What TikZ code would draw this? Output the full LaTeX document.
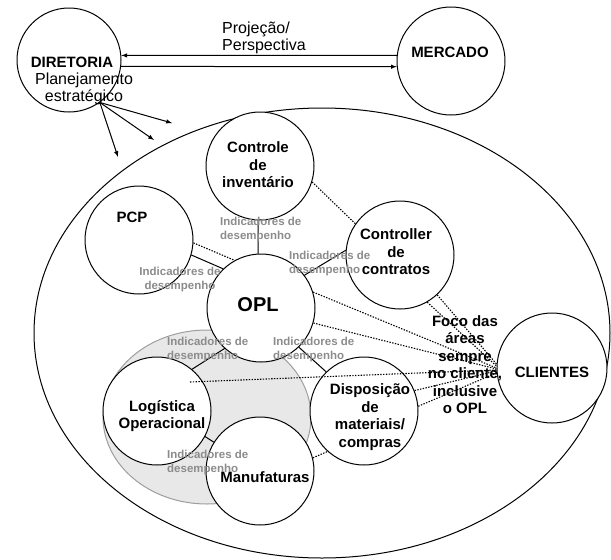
\documentclass[tikz,border=0pt]{standalone}
\usepackage{fontspec}
\setmainfont{Liberation Sans}
\usepackage{xcolor}
\definecolor{indgray}{gray}{0.55}
\definecolor{areafill}{gray}{0.91}
\definecolor{areadraw}{gray}{0.62}

\begin{document}
\begin{tikzpicture}[line cap=round,line join=round,x=1pt,y=-1pt,
    area/.style={circle,draw,fill=white,line width=1pt,minimum size=108pt,inner sep=0pt},
    lbl/.style={align=center,font=\bfseries\fontsize{15}{17.5}\selectfont},
    sublbl/.style={align=center,font=\fontsize{16}{17}\selectfont},
    ind/.style={align=left,anchor=west,inner sep=0pt,text=indgray,font=\bfseries\fontsize{11.5}{14}\selectfont},
    link/.style={line width=1pt},
    dotline/.style={line width=1.1pt,line cap=butt,dash pattern=on 1.4pt off 1.4pt}]
			\useasboundingbox (0,0) rectangle (611,560);
			% background areas
			\draw [line width=1pt] (322,333) ellipse [x radius=288pt, y radius=225pt];
			\draw [line width=1pt,draw=areadraw,fill=areafill] (207,417) ellipse [x radius=104pt, y radius=87pt];
			% circles
			\node[area,minimum size=104pt] (dir) at (69,60) {};
			\node[area] (merc) at (451,61) {};
			\node[area] (inv) at (260,166) {};
			\node[area] (pcp) at (139,240) {};
			\node[area] (opl) at (261,308) {};
			\node[area] (ctr) at (400,255) {};
			\node[area] (log) at (157,411) {};
			\node[area] (man) at (260,471) {};
			\node[area] (disp) at (364,411) {};
			\node[area,minimum size=110pt] (cli) at (552,368) {};
			% arrows
			\coordinate (a1) at (172,123);
			\coordinate (a2) at (154,140);
			\coordinate (a3) at (118,157);
			\coordinate (login) at (190,382);
			\draw [link,-latex] (merc.174) -- (dir.5);
			\draw [link,-latex] (dir.-7) -- (merc.186);
			\draw [link,-latex] (dir.-54) -- (a1);
			\draw [link,-latex] (dir.-54) -- (a2);
			\draw [link,-latex] (dir.-54) -- (a3);
			% solid links
			\draw [link] (inv.268) -- (opl.93);
			\draw [link] (pcp.-16) -- (opl.134);
			\draw [link] (ctr.175) -- (opl.37);
			\draw [link] (opl.228) -- (log.50);
			\draw [link] (opl.-46) -- (disp.134);
			\draw [link] (log.-28) -- (man.148);
			% dotted links
			\draw [dotline] (pcp.-3) -- (opl.119);
			\draw [dotline] (inv.-17) -- (ctr.145);
			\draw [dotline] (ctr.-47) -- (cli.176);
			\draw [dotline] (ctr.-60) -- (cli.178);
			\draw [dotline] (opl.17) -- (cli.180);
			\draw [dotline] (opl.-16) -- (cli.181);
			\draw [dotline] (login) -- (cli.182);
			\draw [dotline] (disp.22) -- (cli.183);
			\draw [dotline] (disp.5) -- (cli.185);
			\draw [dotline] (man.14) -- (disp.228);
			% texts
			\node[lbl] (tdir) at (72,62) {DIRETORIA};
			\node[sublbl] (tplan) at (84,88.5) {Planejamento\\estratégico};
			\node[sublbl,align=left,anchor=west,inner sep=0pt] (tproj) at (222,38) {Projeção/\\Perspectiva};
			\node[lbl] (tmerc) at (450,52) {MERCADO};
			\node[lbl] (tinv) at (258,165) {Controle\\de\\inventário};
			\node[lbl] (tpcp) at (132,217) {PCP};
			\node[lbl,font=\bfseries\fontsize{20}{22}\selectfont] (topl) at (258,305) {OPL};
			\node[lbl] (tctr) at (396,252) {Controller\\de\\contratos};
			\node[lbl] (tlog) at (162,416) {Logística\\Operacional};
			\node[lbl] (tman) at (265,477) {Manufaturas};
			\node[lbl] (tdisp) at (370,417) {Disposição\\de\\materiais/\\compras};
			\node[lbl] (tcli) at (552,372) {CLIENTES};
			\node[lbl] (tfoco) at (465,364.5) {Foco das\\áreas\\sempre\\no cliente,\\inclusive\\o OPL};
			\node[ind] (i1) at (220,230) {Indicadores de\\desempenho};
			\node[ind,align=center,anchor=center] (i2) at (180,280) {Indicadores de\\desempenho};
			\node[ind] (i3) at (289,263.5) {Indicadores de\\desempenho};
			\node[ind] (i4) at (167,350) {Indicadores de\\desempenho};
			\node[ind] (i5) at (273,350) {Indicadores de\\desempenho};
			\node[ind] (i6) at (167,463) {Indicadores de\\desempenho};
			\end{tikzpicture}
\end{document}
